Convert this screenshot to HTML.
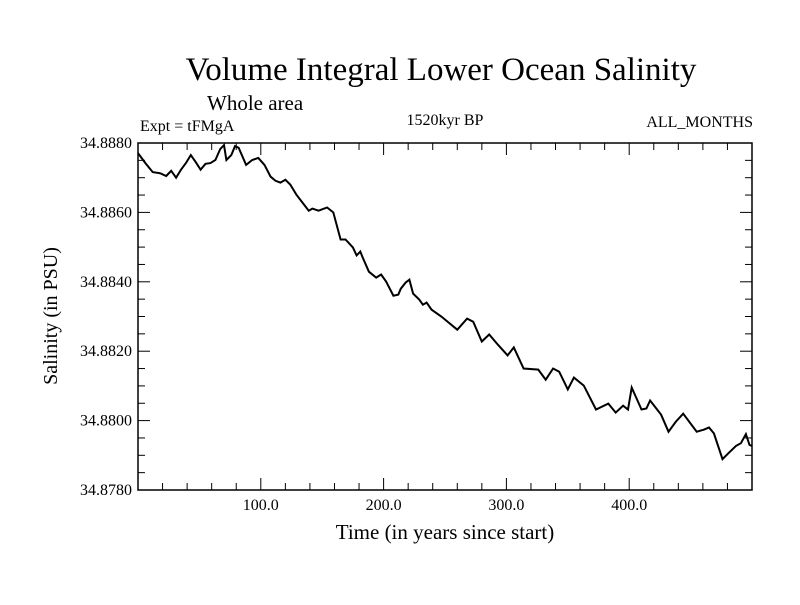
<!DOCTYPE html>
<html><head><meta charset="utf-8"><style>
body{margin:0;background:#fff}
svg text{font-family:"Liberation Serif",serif;fill:#000}
</style></head><body>
<svg id="chart" width="800" height="600" viewBox="0 0 800 600" xmlns="http://www.w3.org/2000/svg">
<text x="441" y="80" font-size="33" text-anchor="middle">Volume Integral Lower Ocean Salinity</text>
<text x="207" y="110" font-size="21">Whole area</text>
<text x="140" y="131" font-size="16">Expt = tFMgA</text>
<text x="445" y="125" font-size="16" text-anchor="middle">1520kyr BP</text>
<text x="753" y="127" font-size="16" text-anchor="end">ALL_MONTHS</text>
<text x="445" y="539" font-size="21" text-anchor="middle">Time (in years since start)</text>
<text transform="translate(57,316) rotate(-90)" font-size="20" text-anchor="middle">Salinity (in PSU)</text>
<g id="axes"></g>
<path id="line" fill="none" stroke="#000" stroke-width="2"/>
</svg>
<script>
const years=[0,6,12,18,23,27,31,35,39,43,47,51,55,59,63,67,70,72,76,79,82,88,93,98,103,108,112,116,120,124,129,134,139,142,147,154,159,165,169,175,178,181,183,188,194,198,202,208,212,214,218,221,224,229,232,235,239,247,260,268,273,280,286,293,301,306,314,326,332,338,343,350,355,363,373,383,389,395,399,402,410,414,417,426,432,438,444,455,461,465,469,476,481,487,491,495,498,500];
const salinity=[34.88771,34.88742,34.88716,34.88713,34.88705,34.88720,34.88700,34.88723,34.88742,34.88765,34.88745,34.88723,34.88740,34.88742,34.88751,34.88783,34.88794,34.88751,34.88765,34.88791,34.88786,34.88737,34.88751,34.88757,34.88737,34.88703,34.88691,34.88686,34.88694,34.88680,34.88651,34.88628,34.88605,34.88611,34.88605,34.88614,34.88600,34.88522,34.88522,34.88499,34.88476,34.88487,34.88470,34.88429,34.88412,34.88421,34.88401,34.88360,34.88363,34.88380,34.88398,34.88406,34.88366,34.88349,34.88334,34.88340,34.88320,34.88300,34.88262,34.88294,34.88285,34.88228,34.88248,34.88219,34.88188,34.88211,34.88150,34.88147,34.88118,34.88150,34.88141,34.88090,34.88124,34.88101,34.88032,34.88049,34.88023,34.88043,34.88032,34.88095,34.88032,34.88035,34.88058,34.88017,34.87968,34.87997,34.88020,34.87968,34.87974,34.87980,34.87963,34.87889,34.87907,34.87927,34.87935,34.87961,34.87930,34.87927];
const xTicks=[100,200,300,400];
const xTickLabels=["100.0","200.0","300.0","400.0"];
const yTicks=[34.878,34.880,34.882,34.884,34.886,34.888];
const yTickLabels=["34.8780","34.8800","34.8820","34.8840","34.8860","34.8880"];
const X0=138,X1=752,Y0=490,Y1=143,XMIN=0,XMAX=500,YMIN=34.878,YMAX=34.888;
const sx=v=>X0+(v-XMIN)/(XMAX-XMIN)*(X1-X0);
const sy=v=>Y0-(v-YMIN)/(YMAX-YMIN)*(Y0-Y1);
const NS="http://www.w3.org/2000/svg",g=document.getElementById('axes');
function mk(t,a){const e=document.createElementNS(NS,t);for(const k in a)e.setAttribute(k,a[k]);g.appendChild(e);return e;}
const fr=mk('rect',{x:X0,y:Y1,width:X1-X0,height:Y0-Y1,fill:'none',stroke:'#000','stroke-width':1.5});


for(let v=20;v<XMAX;v+=20){const L=(v%100===0)?12:7;
 const t1=mk('line',{x1:sx(v),x2:sx(v),y1:Y0,y2:Y0-L,stroke:'#000','stroke-width':1});
 
 
 const t2=mk('line',{x1:sx(v),x2:sx(v),y1:Y1,y2:Y1+L,stroke:'#000','stroke-width':1});
 
 }
for(let i=0;i<=20;i++){const v=YMIN+i*0.0005;const L=(i%4===0)?12:7;
 const t1=mk('line',{x1:X0,x2:X0+L,y1:sy(v),y2:sy(v),stroke:'#000','stroke-width':1});
 
 
 const t2=mk('line',{x1:X1,x2:X1-L,y1:sy(v),y2:sy(v),stroke:'#000','stroke-width':1});
 
 }
xTicks.forEach((v,i)=>{const t=mk('text',{x:sx(v),y:Y0+20,'font-size':16,'text-anchor':'middle'});t.textContent=xTickLabels[i];
 
 });
yTicks.forEach((v,i)=>{const t=mk('text',{x:X0-6,y:sy(v)+5,'font-size':16,'text-anchor':'end'});t.textContent=yTickLabels[i];
 
 });
document.getElementById('line').setAttribute('d',years.map((y,i)=>(i?'L':'M')+sx(y).toFixed(1)+','+sy(salinity[i]).toFixed(1)).join(''));
</script>
</body></html>
